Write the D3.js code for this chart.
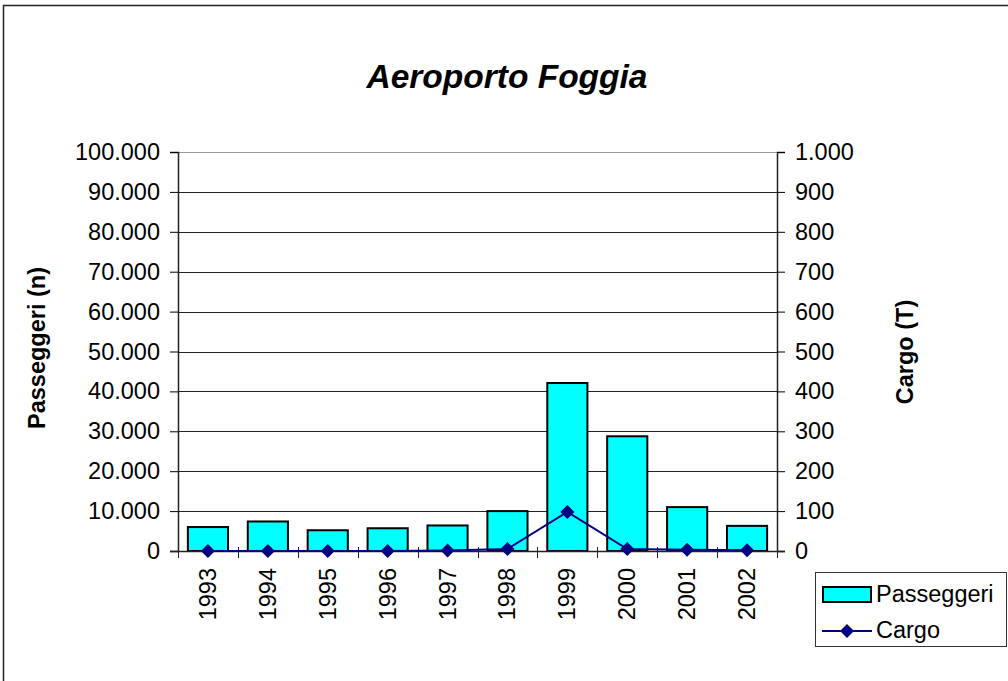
<!DOCTYPE html>
<html>
<head>
<meta charset="utf-8">
<script src="https://cdn.jsdelivr.net/npm/d3@7"></script>
<style>
  html, body { margin: 0; padding: 0; background: #fff; }
  svg { display: block; font-family: "Liberation Sans", Arial, sans-serif; }
</style>
</head>
<body>
<svg id="chart" width="1008" height="681"></svg>
<script>
// Annual traffic, Foggia airport
const years = ["1993", "1994", "1995", "1996", "1997", "1998", "1999", "2000", "2001", "2002"];
const passeggeri = [6000, 7400, 5200, 5700, 6400, 10000, 42100, 28750, 11000, 6300];
const cargo = [0, 0, 0, 0, 1, 5, 98, 5, 3, 2];
const leftTicks = [0, 10000, 20000, 30000, 40000, 50000, 60000, 70000, 80000, 90000, 100000];
const rightTicks = [0, 100, 200, 300, 400, 500, 600, 700, 800, 900, 1000];

const svg = d3.select("#chart");
const plot = { left: 178, right: 777, top: 152, bottom: 551 };
const fs = 23.5;

// Italian-style thousands separator
const fmt = d3.formatLocale({ decimal: ",", thousands: ".", grouping: [3], currency: ["", "€"] }).format(",d");

const x = d3.scaleBand().domain(years).range([plot.left, plot.right]).paddingInner(0.33).paddingOuter(0.165);
const xBand = d3.scaleBand().domain(years).range([plot.left, plot.right]);
const yL = d3.scaleLinear().domain([0, 100000]).range([plot.bottom, plot.top]);
const yR = d3.scaleLinear().domain([0, 1000]).range([plot.bottom, plot.top]);

// outer frame
svg.append("rect").attr("x", 3.5).attr("y", 5.5).attr("width", 1020).attr("height", 690)
  .attr("fill", "none").attr("stroke", "#222").attr("stroke-width", 1.5);

// title
svg.append("text").attr("x", 507).attr("y", 88).attr("text-anchor", "middle")
  .attr("font-size", 33.5).attr("font-weight", "bold").attr("font-style", "italic")
  .text("Aeroporto Foggia");

// gridlines
svg.append("g").selectAll("line").data(leftTicks.slice(1)).join("line")
  .attr("x1", plot.left).attr("x2", plot.right)
  .attr("y1", d => Math.round(yL(d)) + 0.5).attr("y2", d => Math.round(yL(d)) + 0.5)
  .attr("stroke", (d, i) => i === leftTicks.length - 2 ? "#999" : "#222").attr("stroke-width", 1);

// bars
svg.append("g").selectAll("rect").data(years).join("rect")
  .attr("x", d => x(d)).attr("width", x.bandwidth())
  .attr("y", (d, i) => yL(passeggeri[i])).attr("height", (d, i) => plot.bottom - yL(passeggeri[i]))
  .attr("fill", "#00ffff").attr("stroke", "#000").attr("stroke-width", 2);

// left axis
const axL = svg.append("g").attr("transform", `translate(${plot.left},0)`)
  .call(d3.axisLeft(yL).tickValues(leftTicks).tickFormat(fmt).tickSize(8).tickPadding(10));
axL.select(".domain").attr("stroke", "#222").attr("stroke-width", 1.5);
axL.selectAll("text").attr("font-size", fs).attr("font-family", "Liberation Sans, Arial, sans-serif").attr("fill", "#000");

// right axis
const axR = svg.append("g").attr("transform", `translate(${plot.right},0)`)
  .call(d3.axisRight(yR).tickValues(rightTicks).tickFormat(fmt).tickSize(8).tickPadding(10));
axR.select(".domain").attr("stroke", "#222").attr("stroke-width", 1.5);
axR.selectAll("text").attr("font-size", fs).attr("font-family", "Liberation Sans, Arial, sans-serif").attr("fill", "#000");

// category axis
const axX = svg.append("g").attr("transform", `translate(0,${plot.bottom})`);
axX.append("line").attr("x1", plot.left - 8).attr("x2", plot.right + 8).attr("y1", 0.5).attr("y2", 0.5)
  .attr("stroke", "#222").attr("stroke-width", 1.5);
axX.selectAll("line.tick").data(years.concat(["end"])).join("line").attr("class", "tick")
  .attr("x1", (d, i) => Math.round(plot.left + i * xBand.step()) + 0.5)
  .attr("x2", (d, i) => Math.round(plot.left + i * xBand.step()) + 0.5)
  .attr("y1", -4).attr("y2", 7).attr("stroke", "#222");
axX.selectAll("text").data(years).join("text")
  .attr("transform", d => `translate(${xBand(d) + xBand.bandwidth() / 2 + 8},17) rotate(-90)`)
  .attr("text-anchor", "end").attr("font-size", fs).text(d => d);

// cargo line
const line = d3.line().x((d, i) => xBand(years[i]) + xBand.bandwidth() / 2).y(d => yR(d));
svg.append("path").datum(cargo).attr("d", line)
  .attr("fill", "none").attr("stroke", "#000080").attr("stroke-width", 2);
svg.append("g").selectAll("path").data(cargo).join("path")
  .attr("transform", (d, i) => `translate(${xBand(years[i]) + xBand.bandwidth() / 2},${yR(d)})`)
  .attr("d", "M0,-7L7,0L0,7L-7,0Z").attr("fill", "#000080");

// axis titles
svg.append("text").attr("transform", "translate(45,348) rotate(-90)").attr("text-anchor", "middle")
  .attr("font-size", fs).attr("font-weight", "bold").text("Passeggeri (n)");
svg.append("text").attr("transform", "translate(913,352) rotate(-90)").attr("text-anchor", "middle")
  .attr("font-size", fs).attr("font-weight", "bold").text("Cargo (T)");

// legend
const lg = svg.append("g");
lg.append("rect").attr("x", 815.5).attr("y", 572.5).attr("width", 191).attr("height", 74)
  .attr("fill", "#fff").attr("stroke", "#333").attr("stroke-width", 1);
lg.append("rect").attr("x", 823).attr("y", 587).attr("width", 48).attr("height", 15)
  .attr("fill", "#00ffff").attr("stroke", "#000").attr("stroke-width", 2);
lg.append("text").attr("x", 876).attr("y", 602).attr("font-size", fs).text("Passeggeri");
lg.append("line").attr("x1", 822).attr("x2", 872).attr("y1", 631).attr("y2", 631)
  .attr("stroke", "#000080").attr("stroke-width", 2);
lg.append("path").attr("transform", "translate(847,631)").attr("d", "M0,-7L7,0L0,7L-7,0Z").attr("fill", "#000080");
lg.append("text").attr("x", 876).attr("y", 638).attr("font-size", fs).text("Cargo");
</script>
</body>
</html>
